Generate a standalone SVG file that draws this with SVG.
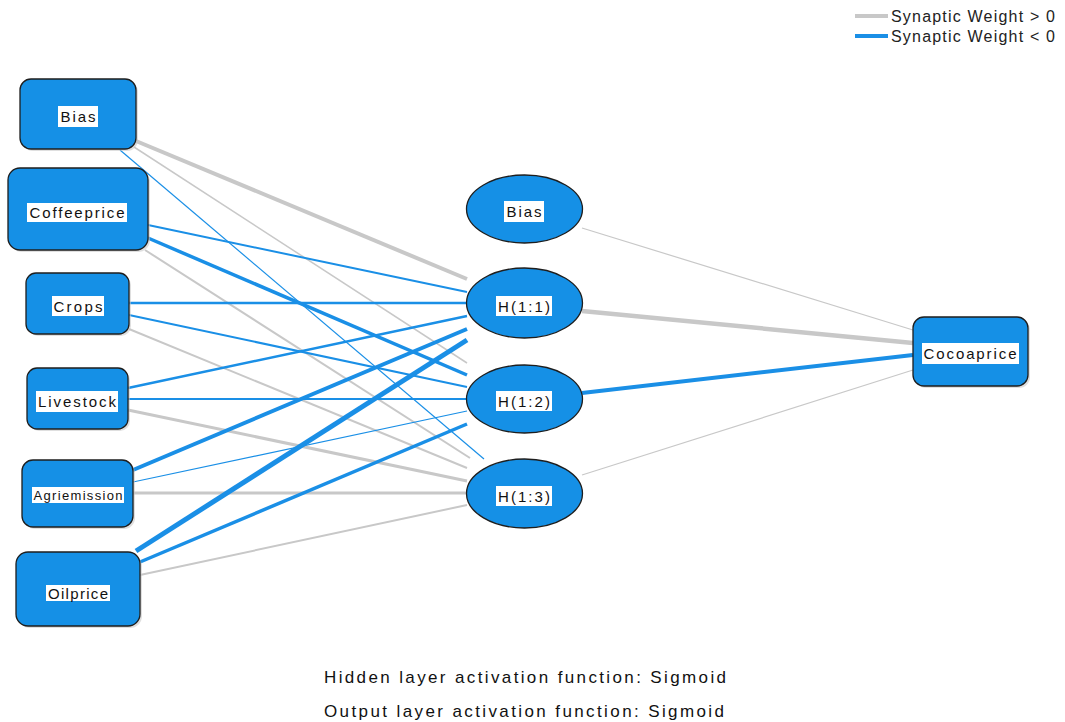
<svg xmlns="http://www.w3.org/2000/svg" width="1065" height="722" viewBox="0 0 1065 722">
  <style>
    .pos { stroke: #c8c8c8; fill: none; stroke-linecap: butt; }
    .neg { stroke: #1a8fe6; fill: none; stroke-linecap: butt; }
    .node { fill: #1590e6; stroke: #1e1e1e; stroke-width: 1.3; }
    .shadow { fill: #c4c4c4; opacity: 0.55; }
    .lblbox { fill: #ffffff; }
    .lbl { font-family: "Liberation Sans", Arial, sans-serif; font-size: 15px; fill: #111; text-anchor: middle; dominant-baseline: central; }
    .legend { font-family: "Liberation Sans", Arial, sans-serif; font-size: 16px; fill: #222; }
    .note { font-family: "Liberation Sans", Arial, sans-serif; font-size: 17px; fill: #111; }
  </style>
  <rect width="1065" height="722" fill="#ffffff"/>

  <!-- legend -->
  <g id="legend">
    <line x1="855" y1="16" x2="888" y2="16" class="pos" stroke-width="4"/>
    <text x="891" y="21.5" class="legend" textLength="164" lengthAdjust="spacing">Synaptic Weight &gt; 0</text>
    <line x1="855" y1="36" x2="888" y2="36" class="neg" stroke-width="4"/>
    <text x="891" y="41.5" class="legend" textLength="164" lengthAdjust="spacing">Synaptic Weight &lt; 0</text>
  </g>

  <!-- weighted connections -->
  <g id="connectors">
    <!-- input bias -->
    <line x1="136" y1="141" x2="467" y2="279" class="pos" stroke-width="4"/>
    <line x1="134" y1="147" x2="467" y2="363" class="pos" stroke-width="1.5"/>
    <line x1="120" y1="150" x2="484" y2="459" class="neg" stroke-width="1.2"/>
    <!-- Coffeeprice -->
    <line x1="148" y1="225" x2="467" y2="292" class="neg" stroke-width="2"/>
    <line x1="148" y1="238" x2="467" y2="375" class="neg" stroke-width="3.5"/>
    <line x1="145" y1="250" x2="470" y2="458" class="pos" stroke-width="2"/>
    <!-- Crops -->
    <line x1="129" y1="303" x2="467" y2="303" class="neg" stroke-width="2.5"/>
    <line x1="129" y1="315" x2="467" y2="387" class="neg" stroke-width="2"/>
    <line x1="129" y1="329" x2="467" y2="468" class="pos" stroke-width="2"/>
    <!-- Livestock -->
    <line x1="128" y1="388" x2="467" y2="316" class="neg" stroke-width="2.5"/>
    <line x1="128" y1="399" x2="467" y2="399" class="neg" stroke-width="1.8"/>
    <line x1="128" y1="410" x2="467" y2="481" class="pos" stroke-width="3"/>
    <!-- Agriemission -->
    <line x1="133" y1="470" x2="467" y2="329" class="neg" stroke-width="4"/>
    <line x1="133" y1="482" x2="467" y2="411" class="neg" stroke-width="1.2"/>
    <line x1="133" y1="493" x2="467" y2="493" class="pos" stroke-width="3"/>
    <!-- Oilprice -->
    <line x1="136" y1="551" x2="467" y2="340" class="neg" stroke-width="5"/>
    <line x1="140" y1="562" x2="467" y2="424" class="neg" stroke-width="3.5"/>
    <line x1="140" y1="575" x2="467" y2="505" class="pos" stroke-width="2"/>
    <!-- hidden to output -->
    <line x1="582" y1="228" x2="913" y2="330" class="pos" stroke-width="1.2"/>
    <line x1="582" y1="311" x2="913" y2="343" class="pos" stroke-width="4.5"/>
    <line x1="582" y1="393" x2="913" y2="355" class="neg" stroke-width="4"/>
    <line x1="582" y1="475" x2="913" y2="370" class="pos" stroke-width="1.2"/>
  </g>

  <!-- input layer -->
  <g id="in-bias">
    <rect x="22" y="81" width="116" height="70" rx="11" class="shadow"/>
    <rect x="20" y="79" width="116" height="70" rx="11" class="node"/>
    <rect x="58" y="106" width="40" height="21" class="lblbox"/>
    <text x="78" y="116.5" class="lbl" textLength="35" lengthAdjust="spacing">Bias</text>
  </g>
  <g id="in-coffeeprice">
    <rect x="10" y="170" width="140" height="82" rx="12" class="shadow"/>
    <rect x="8" y="168" width="140" height="82" rx="12" class="node"/>
    <rect x="27" y="203" width="100" height="19" class="lblbox"/>
    <text x="77" y="212.5" class="lbl" textLength="95" lengthAdjust="spacing">Coffeeprice</text>
  </g>
  <g id="in-crops">
    <rect x="28" y="275" width="103" height="61" rx="10" class="shadow"/>
    <rect x="26" y="273" width="103" height="61" rx="10" class="node"/>
    <rect x="52" y="296" width="52" height="20" class="lblbox"/>
    <text x="78" y="306" class="lbl" textLength="49" lengthAdjust="spacing">Crops</text>
  </g>
  <g id="in-livestock">
    <rect x="29" y="370" width="101" height="61" rx="10" class="shadow"/>
    <rect x="27" y="368" width="101" height="61" rx="10" class="node"/>
    <rect x="36" y="391" width="82" height="21" class="lblbox"/>
    <text x="77" y="401.5" class="lbl" textLength="78" lengthAdjust="spacing">Livestock</text>
  </g>
  <g id="in-agriemission">
    <rect x="24" y="462" width="111" height="67" rx="11" class="shadow"/>
    <rect x="22" y="460" width="111" height="67" rx="11" class="node"/>
    <rect x="32" y="487" width="92" height="16" class="lblbox"/>
    <text x="78" y="495" class="lbl" style="font-size:13px" textLength="89" lengthAdjust="spacing">Agriemission</text>
  </g>
  <g id="in-oilprice">
    <rect x="18" y="554" width="124" height="74" rx="12" class="shadow"/>
    <rect x="16" y="552" width="124" height="74" rx="12" class="node"/>
    <rect x="46" y="585" width="64" height="16" class="lblbox"/>
    <text x="78" y="593" class="lbl" textLength="60" lengthAdjust="spacing">Oilprice</text>
  </g>

  <!-- hidden layer -->
  <g id="hid-bias">
    <ellipse cx="524.5" cy="209" rx="58" ry="34" class="node"/>
    <rect x="504" y="201" width="40" height="21" class="lblbox"/>
    <text x="524" y="211.5" class="lbl" textLength="35" lengthAdjust="spacing">Bias</text>
  </g>
  <g id="hid-h11">
    <ellipse cx="524.5" cy="303" rx="58" ry="35" class="node"/>
    <rect x="496" y="296" width="56" height="20" class="lblbox"/>
    <text x="524" y="306" class="lbl" textLength="52" lengthAdjust="spacing">H(1:1)</text>
  </g>
  <g id="hid-h12">
    <ellipse cx="524.5" cy="399" rx="58" ry="34" class="node"/>
    <rect x="496" y="391" width="56" height="20" class="lblbox"/>
    <text x="524" y="401" class="lbl" textLength="52" lengthAdjust="spacing">H(1:2)</text>
  </g>
  <g id="hid-h13">
    <ellipse cx="524.5" cy="493.5" rx="58" ry="34.5" class="node"/>
    <rect x="496" y="486" width="56" height="20" class="lblbox"/>
    <text x="524" y="496" class="lbl" textLength="52" lengthAdjust="spacing">H(1:3)</text>
  </g>

  <!-- output layer -->
  <g id="out-cocoaprice">
    <rect x="915" y="319" width="115" height="69" rx="11" class="shadow"/>
    <rect x="913" y="317" width="115" height="69" rx="11" class="node"/>
    <rect x="922" y="343" width="97" height="21" class="lblbox"/>
    <text x="970" y="353.5" class="lbl" textLength="93" lengthAdjust="spacing">Cocoaprice</text>
  </g>

  <!-- activation notes -->
  <g id="notes">
    <text x="324" y="683" class="note" textLength="402" lengthAdjust="spacing">Hidden layer activation function: Sigmoid</text>
    <text x="324" y="717" class="note" textLength="400" lengthAdjust="spacing">Output layer activation function: Sigmoid</text>
  </g>
</svg>
